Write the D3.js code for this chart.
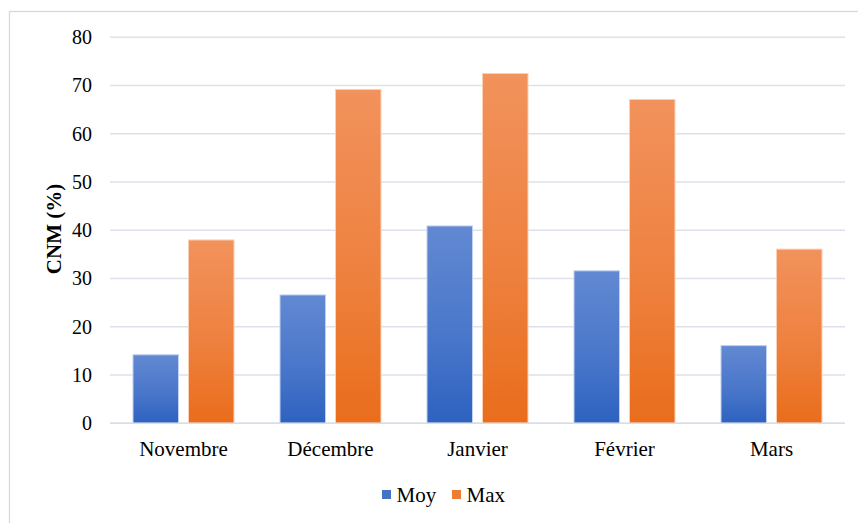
<!DOCTYPE html>
<html><head><meta charset="utf-8">
<script src="https://cdn.jsdelivr.net/npm/d3@7"></script>
<style>body{margin:0;background:#fff}svg{display:block}</style>
</head><body>
<svg id="c" width="858" height="523"></svg>
<script>
const categories = ["Novembre","Décembre","Janvier","Février","Mars"];
const seriesNames = ["Moy","Max"];
const moy = [14.2, 26.6, 40.9, 31.6, 16.1];
const max = [38.0, 69.2, 72.5, 67.1, 36.1];
const yTicks = [0,10,20,30,40,50,60,70,80];

const svg = d3.select("#c");
const font = "'Liberation Serif','Times New Roman',serif";
const m = {left:110, right:845, top:37.3, bottom:423.3};

svg.append("rect").attr("x",9.5).attr("y",11.5).attr("width",900).attr("height",600)
  .attr("fill","#fff").attr("stroke","#D9D9D9").attr("stroke-width",1.3);

const defs = svg.append("defs");
const gradSpecs = [["gMoy","#6289D2","#2D62C0"],["gMax","#F2925C","#E96D1B"]];
gradSpecs.forEach(([id,a,b])=>{
  const g = defs.append("linearGradient").attr("id",id).attr("x1",0).attr("y1",0).attr("x2",0).attr("y2",1);
  g.append("stop").attr("offset","0%").attr("stop-color",a);
  g.append("stop").attr("offset","55%").attr("stop-color",d3.interpolateRgb(a,b)(0.45));
  g.append("stop").attr("offset","100%").attr("stop-color",b);
});

const x = d3.scaleBand().domain(categories).range([m.left,m.right]).paddingInner(0).paddingOuter(0);
const x1 = d3.scaleBand().domain(seriesNames).range([23, x.bandwidth()-23]).paddingInner(0.18);
const y = d3.scaleLinear().domain([0,80]).range([m.bottom,m.top]);

// gridlines
svg.append("g").selectAll("line").data(yTicks).join("line")
  .attr("x1",m.left).attr("x2",m.right)
  .attr("y1",d=>y(d)).attr("y2",d=>y(d))
  .attr("stroke","#DDE2EA").attr("stroke-width",1.5);

// y axis labels
const yAxis = d3.axisLeft(y).tickValues(yTicks).tickSize(0).tickPadding(0);
const ya = svg.append("g").attr("transform","translate(92,0)").call(yAxis);
ya.select(".domain").remove();
ya.selectAll("text").attr("font-family",font).attr("font-size",20).attr("fill","#000");

// bars
const data = categories.map((c,i)=>({c, vals:[{s:"Moy",v:moy[i]},{s:"Max",v:max[i]}]}));
const grp = svg.append("g").selectAll("g").data(data).join("g")
  .attr("transform",d=>`translate(${x(d.c)},0)`);
grp.selectAll("rect").data(d=>d.vals).join("rect")
  .attr("x",d=>x1(d.s)).attr("width",x1.bandwidth())
  .attr("y",d=>y(d.v)).attr("height",d=>y(0)-y(d.v))
  .attr("fill",d=>d.s==="Moy"?"url(#gMoy)":"url(#gMax)")
  .attr("stroke",d=>d.s==="Moy"?"#BFD0F0":"#FAD0B5").attr("stroke-width",1);

// baseline
svg.append("line").attr("x1",m.left).attr("x2",m.right).attr("y1",y(0)).attr("y2",y(0))
  .attr("stroke","#D9DEE6").attr("stroke-width",1.5);

// x axis labels
const xAxis = d3.axisBottom(x).tickSize(0).tickPadding(0);
const xa = svg.append("g").attr("transform",`translate(0,${y(0)})`).call(xAxis);
xa.select(".domain").remove();
xa.selectAll("text").attr("font-family",font).attr("font-size",21).attr("fill","#000")
  .attr("y",456-y(0)).attr("dy",0);

// y title
svg.append("text").attr("transform","translate(61,229) rotate(-90)")
  .attr("text-anchor","middle").attr("font-family",font).attr("font-size",21)
  .attr("font-weight","bold").text("CNM (%)");

// legend
const legend = svg.append("g");
const legItems = [{s:"Moy",c:"#4472C4",x:382},{s:"Max",c:"#ED7D31",x:452}];
legItems.forEach(it=>{
  legend.append("rect").attr("x",it.x).attr("y",490).attr("width",9).attr("height",9).attr("fill",it.c);
  legend.append("text").attr("x",it.x+14.5).attr("y",501.5).attr("font-family",font)
    .attr("font-size",21).attr("fill","#000").text(it.s);
});
</script>
</body></html>
